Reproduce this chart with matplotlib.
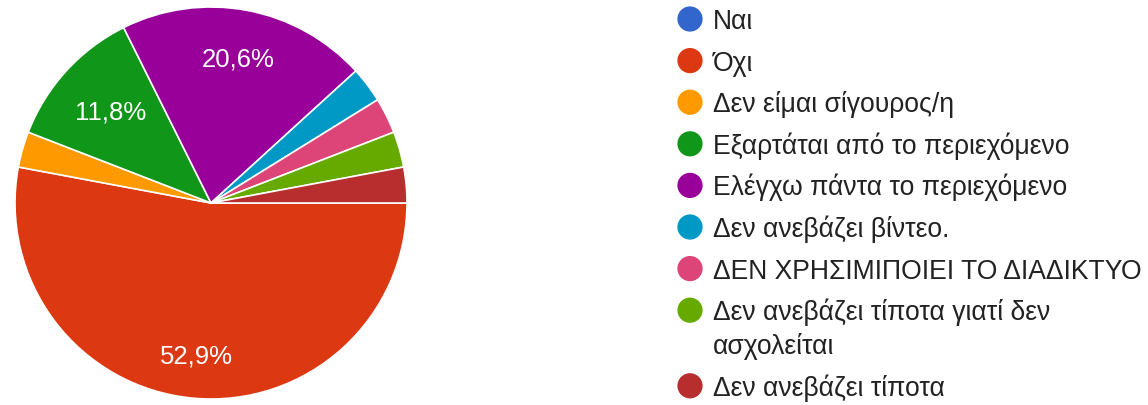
import math
import matplotlib
matplotlib.use("Agg")
import matplotlib.pyplot as plt

plt.rcParams['font.family'] = ['Liberation Sans', 'DejaVu Sans']

# Survey answers and response counts
labels = [
    "Ναι",
    "Όχι",
    "Δεν είμαι σίγουρος/η",
    "Εξαρτάται από το περιεχόμενο",
    "Ελέγχω πάντα το περιεχόμενο",
    "Δεν ανεβάζει βίντεο.",
    "ΔΕΝ ΧΡΗΣΙΜΙΠΟΙΕΙ ΤΟ ΔΙΑΔΙΚΤΥΟ",
    "Δεν ανεβάζει τίποτα γιατί δεν\nασχολείται",
    "Δεν ανεβάζει τίποτα",
]
counts = [0, 18, 1, 4, 7, 1, 1, 1, 1]
colors = ["#3366cc", "#dc3912", "#ff9900", "#109618", "#990099",
          "#0099c6", "#dd4477", "#66aa00", "#b82e2e"]

W, H = 1148, 406
fig = plt.figure(figsize=(W / 100, H / 100), dpi=100)

# Pie area (pixel geometry converted to figure fractions)
cx, cy, r = 211, 204, 196
ax = fig.add_axes([(cx - r) / W, (H - cy - r) / H, 2 * r / W, 2 * r / H])


def fmt_pct(p):
    return (f"{p:.1f}%".replace(".", ",")) if p >= 5 else ""


wedges, texts, autotexts = ax.pie(
    counts, colors=colors, startangle=0, counterclock=False,
    autopct=fmt_pct, pctdistance=0.75,
    wedgeprops=dict(edgecolor="white", linewidth=1.2),
    textprops=dict(color="white", fontsize=18.5),
)

# Larger slices get their label pushed further out, smaller ones pulled in
for w, t in zip(wedges, autotexts):
    span = w.theta2 - w.theta1
    if not t.get_text():
        continue
    dist = 0.69 if span < 60 else (0.75 if span < 120 else 0.78)
    mid = math.radians((w.theta1 + w.theta2) / 2)
    t.set_position((dist * math.cos(mid), dist * math.sin(mid)))

ax.set_xlim(-1, 1)
ax.set_ylim(-1, 1)
ax.set_aspect("equal")
ax.axis("off")

# Legend drawn on an overlay axis in pixel units
lax = fig.add_axes([0, 0, 1, 1])
lax.set_xlim(0, W)
lax.set_ylim(H, 0)
lax.axis("off")

marker_x, text_x = 690, 713
y = 20
row_gap, line_gap = 41.6, 34
for lab, col in zip(labels, colors):
    lax.scatter([marker_x], [y], s=330, color=col, edgecolors="none")
    lines = lab.split("\n")
    for i, line in enumerate(lines):
        lax.text(text_x, y + i * line_gap + 9, line, fontsize=19.1,
                 color="#222222", va="baseline", ha="left")
    y += row_gap + (len(lines) - 1) * line_gap

fig.savefig("out.png", dpi=100, facecolor="white")
